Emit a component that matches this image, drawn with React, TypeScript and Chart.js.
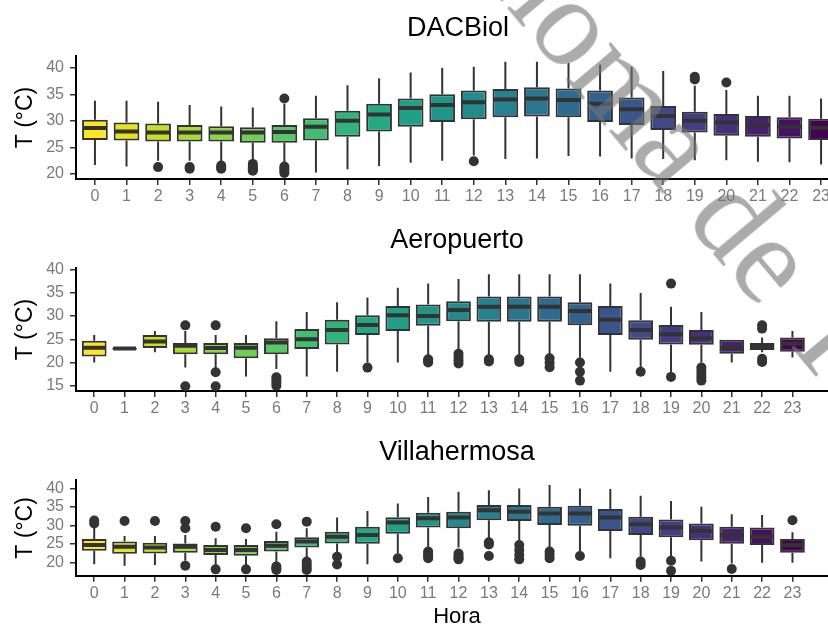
import React, { useEffect, useRef } from 'react';
import { Chart, registerables } from 'chart.js';

Chart.register(...registerables);

const FONT = '"Liberation Sans", Arial, Helvetica, sans-serif';
Chart.defaults.font.family = FONT;

// ---------- shared categories ----------
const HOURS = [0, 1, 2, 3, 4, 5, 6, 7, 8, 9, 10, 11, 12, 13, 14, 15, 16, 17, 18, 19, 20, 21, 22, 23];
const HOUR_LABELS = ['0', '1', '2', '3', '4', '5', '6', '7', '8', '9', '10', '11', '12', '13', '14', '15', '16', '17', '18', '19', '20', '21', '22', '23'];
// viridis, reversed (hour 0 = yellow, hour 23 = purple)
const HOUR_COLORS = [
  '#fde725', '#e3e41a', '#c6e022', '#a8db33', '#8bd546', '#70ce57', '#58c765', '#42be71',
  '#30b47c', '#24aa83', '#1fa087', '#20968b', '#238b8d', '#26808e', '#2b768e', '#2f6b8e',
  '#34608d', '#3a558b', '#3f4988', '#433d84', '#46307c', '#482071', '#471163', '#440154',
];

// ---------- DACBiol ----------
const DAC_LOW = [21.7, 21.4, 22.5, 22.5, 22.3, 22.3, 22.0, 20.3, 20.9, 21.5, 22.1, 22.5, 23.5, 22.8, 22.9, 23.4, 23.3, 22.9, 22.8, 22.6, 22.6, 22.3, 22.2, 21.8];
const DAC_Q1 = [26.4, 26.3, 26.1, 26.1, 26.1, 25.9, 25.9, 26.3, 27.0, 28.0, 28.9, 29.8, 30.3, 30.7, 30.8, 30.7, 29.8, 29.2, 28.3, 27.8, 27.2, 27.0, 26.7, 26.4];
const DAC_MED = [28.65, 28.0, 27.8, 27.8, 27.8, 27.8, 27.9, 28.9, 30.0, 31.2, 32.4, 33.0, 33.5, 34.0, 34.2, 33.9, 33.2, 32.2, 30.9, 30.0, 29.7, 29.2, 28.9, 28.7];
const DAC_Q3 = [30.2, 29.7, 29.5, 29.2, 29.0, 28.8, 29.2, 30.5, 31.9, 33.2, 34.2, 35.0, 35.7, 36.0, 36.3, 36.1, 35.7, 34.4, 32.8, 31.7, 31.3, 30.9, 30.7, 30.4];
const DAC_HIGH = [33.8, 33.8, 33.6, 33.0, 32.7, 32.5, 33.2, 34.7, 36.7, 38.0, 39.1, 40.0, 40.2, 41.1, 41.1, 40.9, 40.6, 40.2, 39.4, 36.6, 35.8, 34.7, 34.7, 34.2];
const DAC_OUT_HOUR = [2, 3, 3, 4, 4, 4, 5, 5, 5, 5, 5, 6, 6, 6, 6, 6, 12, 19, 19, 20];
const DAC_OUT_TEMP = [21.3, 21.3, 21.0, 21.6, 21.2, 21.0, 21.9, 21.5, 21.1, 20.8, 20.6, 34.2, 21.4, 21.0, 20.6, 20.2, 22.4, 38.3, 37.8, 37.2];
const DAC_Y_TICKS = [20, 25, 30, 35, 40];

// ---------- Aeropuerto ----------
const AER_LOW = [20.0, 22.8, 22.2, 18.9, 18.7, 17.0, 18.6, 17.0, 18.0, 20.0, 20.0, 21.5, 22.5, 21.5, 21.5, 21.5, 21.0, 18.0, 18.9, 17.9, 20.0, 20.0, 22.2, 21.1];
const AER_Q1 = [21.3, 22.8, 23.1, 21.8, 21.8, 20.9, 21.8, 22.9, 23.9, 25.9, 26.8, 27.9, 28.9, 28.8, 28.8, 28.8, 28.0, 25.9, 24.9, 23.9, 23.8, 21.9, 22.7, 22.3];
const AER_MED = [23.2, 23.0, 24.5, 23.6, 23.1, 23.2, 24.3, 25.0, 27.0, 28.1, 30.2, 30.0, 31.3, 32.0, 32.0, 32.0, 31.1, 29.2, 27.0, 26.1, 25.2, 23.2, 23.4, 24.1];
const AER_Q3 = [24.7, 23.2, 25.9, 24.2, 24.2, 24.2, 25.2, 27.2, 29.2, 30.2, 32.2, 32.5, 33.2, 34.2, 34.2, 34.2, 33.0, 32.2, 29.1, 28.1, 27.0, 24.9, 24.2, 25.4];
const AER_HIGH = [25.9, 23.2, 26.8, 26.8, 25.9, 25.9, 28.9, 30.9, 33.0, 34.0, 36.1, 37.0, 38.0, 39.0, 39.0, 39.0, 39.0, 37.0, 35.0, 32.0, 30.9, 24.9, 25.4, 26.8];
const AER_OUT_HOUR = [3, 3, 4, 4, 4, 6, 6, 6, 6, 9, 11, 11, 11, 12, 12, 12, 12, 13, 13, 14, 14, 15, 15, 15, 16, 16, 16, 18, 19, 19, 20, 20, 20, 20, 20, 22, 22, 22, 22];
const AER_OUT_TEMP = [28.0, 14.9, 28.0, 17.9, 14.9, 16.8, 16.2, 15.6, 15.0, 18.9, 20.7, 20.3, 20.0, 21.9, 21.2, 20.5, 19.8, 20.7, 20.2, 20.7, 20.1, 20.9, 20.0, 19.0, 20.0, 18.0, 16.1, 18.0, 37.0, 16.9, 18.9, 18.2, 17.5, 16.8, 16.1, 28.0, 27.3, 20.8, 20.1];
const AER_Y_TICKS = [15, 20, 25, 30, 35, 40];

// ---------- Villahermosa ----------
const VIL_LOW = [19.5, 19.1, 19.3, 20.4, 19.3, 19.3, 20.0, 21.1, 22.0, 19.5, 22.4, 24.2, 24.0, 26.5, 26.0, 23.8, 22.9, 21.1, 21.5, 20.9, 20.2, 19.7, 19.9, 19.9];
const VIL_Q1 = [23.1, 22.3, 22.4, 22.6, 22.0, 21.8, 22.9, 24.0, 25.1, 25.0, 27.7, 29.4, 29.2, 31.4, 31.2, 30.1, 29.9, 28.5, 27.4, 26.8, 26.0, 25.0, 24.7, 22.6];
const VIL_MED = [24.7, 24.2, 24.0, 24.2, 23.3, 23.3, 24.5, 25.6, 26.9, 27.4, 30.8, 31.9, 32.1, 34.1, 33.7, 33.2, 33.2, 32.1, 30.3, 29.4, 28.5, 27.4, 26.9, 24.7];
const VIL_Q3 = [26.3, 25.6, 25.3, 25.1, 24.7, 24.7, 25.8, 26.8, 28.3, 29.6, 32.2, 33.4, 33.7, 35.5, 35.5, 35.0, 35.3, 34.4, 32.3, 31.6, 30.5, 29.6, 29.4, 26.3];
const VIL_HIGH = [29.6, 27.1, 27.1, 27.4, 26.5, 26.3, 28.3, 29.2, 32.1, 33.9, 35.9, 37.7, 39.1, 39.5, 40.0, 40.9, 40.0, 39.8, 38.0, 36.6, 35.0, 33.0, 32.8, 28.1];
const VIL_OUT_HOUR = [0, 0, 1, 2, 3, 3, 3, 4, 4, 5, 5, 6, 6, 6, 6, 7, 7, 7, 7, 7, 8, 8, 10, 11, 11, 11, 11, 12, 12, 12, 12, 13, 13, 13, 14, 14, 14, 14, 15, 15, 15, 16, 18, 18, 19, 19, 21, 23];
const VIL_OUT_TEMP = [31.3, 30.5, 31.2, 31.2, 31.2, 29.2, 19.1, 29.6, 18.1, 29.2, 18.1, 30.3, 18.9, 18.4, 17.9, 31.0, 20.2, 19.4, 18.6, 17.9, 21.5, 19.4, 21.1, 22.9, 22.3, 21.7, 21.1, 22.4, 21.8, 21.2, 20.8, 25.4, 24.8, 21.7, 24.7, 23.3, 22.0, 20.8, 22.9, 22.0, 21.1, 21.7, 20.2, 19.3, 20.4, 17.7, 18.2, 31.4];
const VIL_Y_TICKS = [20, 25, 30, 35, 40];

const Y_TITLE = 'T (°C)';
const X_TITLE = 'Hora';

type PanelSpec = {
  title: string;
  low: number[]; q1: number[]; med: number[]; q3: number[]; high: number[];
  outHour: number[]; outTemp: number[]; yTicks: number[];
  yMin: number; yMax: number; xMax: number;
  top: number; height: number; padRight: number;
  titlePadTop: number; titlePadBottom: number; xHeight: number; xTitle?: string;
};

const PANELS: PanelSpec[] = [
  { title: 'DACBiol', low: DAC_LOW, q1: DAC_Q1, med: DAC_MED, q3: DAC_Q3, high: DAC_HIGH, outHour: DAC_OUT_HOUR, outTemp: DAC_OUT_TEMP, yTicks: DAC_Y_TICKS,
    yMin: 19.06, yMax: 42.2, xMax: 23.6, top: 0, height: 209, padRight: 20, titlePadTop: 12.5, titlePadBottom: 11.1, xHeight: 30 },
  { title: 'Aeropuerto', low: AER_LOW, q1: AER_Q1, med: AER_MED, q3: AER_Q3, high: AER_HIGH, outHour: AER_OUT_HOUR, outTemp: AER_OUT_TEMP, yTicks: AER_Y_TICKS,
    yMin: 13.86, yMax: 40.34, xMax: 24.5, top: 212, height: 209, padRight: 22, titlePadTop: 12.2, titlePadBottom: 11.5, xHeight: 30 },
  { title: 'Villahermosa', low: VIL_LOW, q1: VIL_Q1, med: VIL_MED, q3: VIL_Q3, high: VIL_HIGH, outHour: VIL_OUT_HOUR, outTemp: VIL_OUT_TEMP, yTicks: VIL_Y_TICKS,
    yMin: 16.38, yMax: 42.24, xMax: 24.5, top: 425, height: 210, padRight: 22, titlePadTop: 11.7, titlePadBottom: 11, xHeight: 59.3, xTitle: X_TITLE },
];

const CANVAS_W = 860;
const TICK_GREY = '#7a7a7a';
const LINE_DARK = '#333333';

function BoxPanel({ p }: { p: PanelSpec }) {
  const ref = useRef<HTMLCanvasElement>(null);
  useEffect(() => {
    const canvas = ref.current;
    if (!canvas) return;
    const boxes = HOURS.map((h, i) => ({ x: h, y: [p.q1[i], p.q3[i]] }));
    const outliers = p.outHour.map((h, i) => ({ x: h, y: p.outTemp[i] }));

    const boxParts = {
      id: 'boxParts',
      beforeDatasetsDraw(chart: any) {
        const { ctx } = chart;
        const xs = chart.scales.x;
        const ys = chart.scales.y;
        ctx.save();
        ctx.strokeStyle = LINE_DARK;
        ctx.lineWidth = 2;
        ctx.lineCap = 'butt';
        ctx.beginPath();
        HOURS.forEach((h, i) => {
          const px = xs.getPixelForValue(h);
          ctx.moveTo(px, ys.getPixelForValue(p.low[i]));
          ctx.lineTo(px, ys.getPixelForValue(p.q1[i]));
          ctx.moveTo(px, ys.getPixelForValue(p.q3[i]));
          ctx.lineTo(px, ys.getPixelForValue(p.high[i]));
        });
        ctx.stroke();
        ctx.restore();
      },
      afterDatasetsDraw(chart: any) {
        const { ctx } = chart;
        const ys = chart.scales.y;
        const meta = chart.getDatasetMeta(1);
        ctx.save();
        ctx.strokeStyle = LINE_DARK;
        ctx.lineWidth = 4;
        ctx.beginPath();
        meta.data.forEach((bar: any, i: number) => {
          const { x, width } = bar.getProps(['x', 'width'], true);
          const py = ys.getPixelForValue(p.med[i]);
          ctx.moveTo(x - width / 2 + 1, py);
          ctx.lineTo(x + width / 2 - 1, py);
        });
        ctx.stroke();
        ctx.restore();
      },
    };

    const chart = new Chart(canvas, {
      type: 'bar',
      data: {
        datasets: [
          {
            type: 'scatter',
            data: outliers,
            pointRadius: 5,
            pointBackgroundColor: LINE_DARK,
            pointBorderWidth: 0,
            pointBorderColor: LINE_DARK,
          } as any,
          {
            type: 'bar',
            data: boxes as any,
            backgroundColor: HOUR_COLORS,
            borderColor: LINE_DARK,
            borderWidth: 2,
            borderSkipped: false,
            barPercentage: 0.815,
            categoryPercentage: 1,
          } as any,
        ],
      },
      options: {
        responsive: false,
        animation: false,
        devicePixelRatio: 1,
        events: [],
        layout: { padding: { left: 0, right: p.padRight, top: 0, bottom: 0 } },
        plugins: {
          legend: { display: false },
          tooltip: { enabled: false },
          title: {
            display: true,
            text: p.title,
            fullSize: false,
            color: '#000000',
            font: { size: 27, weight: 'normal', family: FONT },
            padding: { top: p.titlePadTop, bottom: p.titlePadBottom },
          },
        },
        scales: {
          x: {
            type: 'linear',
            min: -0.6,
            max: p.xMax,
            offset: false,
            afterBuildTicks: (s: any) => { s.ticks = HOURS.map((v) => ({ value: v })); },
            afterFit: (s: any) => { s.height = p.xHeight; },
            ticks: {
              autoSkip: false,
              maxRotation: 0,
              minRotation: 0,
              padding: 2,
              color: TICK_GREY,
              font: { size: 16, family: FONT },
              callback: (_v: any, i: number) => HOUR_LABELS[i],
            },
            grid: { offset: false, drawOnChartArea: false, drawTicks: true, tickLength: 6, color: LINE_DARK, lineWidth: 1.5 },
            border: { display: true, color: '#000000', width: 2 },
            title: p.xTitle
              ? { display: true, text: p.xTitle, color: '#000000', font: { size: 22, family: FONT }, padding: { top: 0, bottom: 4.5 } }
              : { display: false },
          } as any,
          y: {
            type: 'linear',
            min: p.yMin,
            max: p.yMax,
            beginAtZero: false,
            afterBuildTicks: (s: any) => { s.ticks = p.yTicks.map((v) => ({ value: v })); },
            afterFit: (s: any) => { s.width = 76; },
            ticks: { padding: 6, color: TICK_GREY, font: { size: 16, family: FONT } },
            grid: { drawOnChartArea: false, drawTicks: true, tickLength: 6, color: LINE_DARK, lineWidth: 1.5 },
            border: { display: true, color: '#000000', width: 2 },
            title: { display: true, text: Y_TITLE, color: '#000000', font: { size: 23, family: FONT }, padding: { top: 11.5, bottom: 0 } },
          } as any,
        },
      },
      plugins: [boxParts],
    } as any);
    return () => chart.destroy();
  }, [p]);

  return (
    <canvas
      ref={ref}
      width={CANVAS_W}
      height={p.height}
      style={{ position: 'absolute', left: 0, top: p.top, width: CANVAS_W, height: p.height }}
    />
  );
}

export default function App() {
  return (
    <div style={{ position: 'fixed', left: 0, top: 0, width: 828, height: 627, overflow: 'hidden', background: '#ffffff' }}>
      {PANELS.map((p) => (
        <BoxPanel key={p.title} p={p} />
      ))}
      <div
        style={{
          position: 'absolute', left: 427, top: -54, width: 0, height: 0,
          transform: 'rotate(50deg)', transformOrigin: '0 0', pointerEvents: 'none',
          fontFamily: '"Liberation Serif", "DejaVu Serif", serif', fontSize: 126, lineHeight: 1,
          color: 'rgba(115,115,115,0.6)', zIndex: 5,
        }}
      >
        <span style={{ position: 'absolute', right: 0, bottom: 0, whiteSpace: 'nowrap' }}>Universidad Juárez Aut</span>
        <span style={{ position: 'absolute', left: 0, bottom: 0, whiteSpace: 'nowrap' }}>ónoma de Tabasco</span>
      </div>
    </div>
  );
}
